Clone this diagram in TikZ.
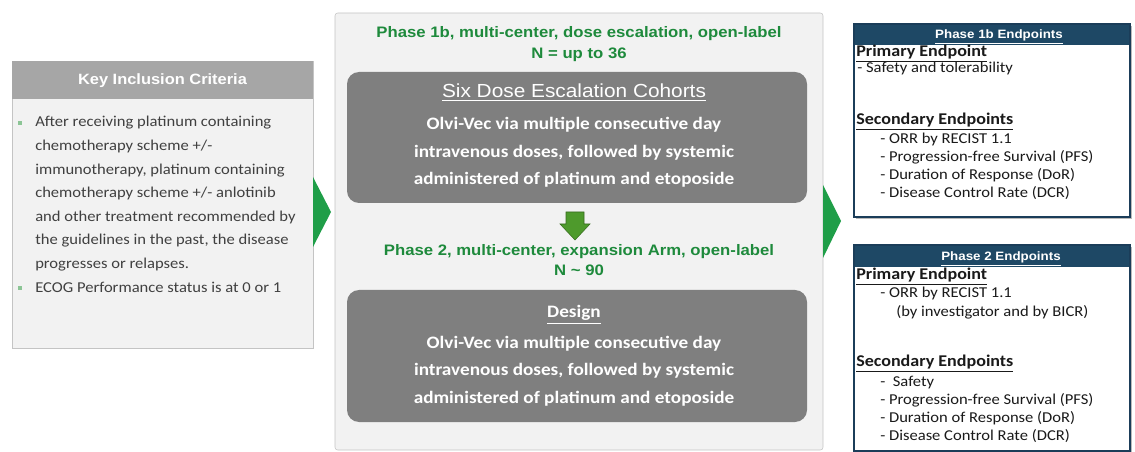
\documentclass[tikz,border=0pt]{standalone}
\usepackage{fontspec}
\setmainfont{Carlito}[FakeStretch=1.1]
\newfontfamily\headfont{Liberation Sans}[FakeStretch=1.1]
\usepackage{tikz}
\usetikzlibrary{positioning,shadows}
\definecolor{panelgray}{HTML}{F2F2F2}
\definecolor{edgegray}{HTML}{C4C4C4}
\definecolor{bandgray}{HTML}{A6A6A6}
\definecolor{cohortgray}{HTML}{7F7F7F}
\definecolor{critink}{HTML}{404040}
\definecolor{phasegreen}{HTML}{1E8A3C}
\definecolor{chevgreen}{HTML}{1F9E48}
\definecolor{downgreen}{HTML}{4E9A2C}
\definecolor{epnavy}{HTML}{1B3D59}
\definecolor{epband}{HTML}{1E4865}
\definecolor{epink}{HTML}{1A1A1A}
\definecolor{dotgreen}{HTML}{8CC596}

\begin{document}
\begin{tikzpicture}[x=0.75pt,y=-0.75pt,every node/.style={inner sep=0pt},
  crit/.style={font=\fontsize{11.3}{14}\selectfont,text=critink,anchor=base west},
  crithead/.style={font=\headfont\bfseries\fontsize{11.2}{14}\selectfont,text=white,anchor=base},
  dot/.style={fill=dotgreen,minimum size=2.6pt},
  phase/.style={font=\headfont\bfseries\fontsize{11.4}{14}\selectfont,text=phasegreen,anchor=base},
  cohorthead/.style={font=\headfont\fontsize{14.2}{16}\selectfont,text=white,anchor=base},
  cohort/.style={font=\bfseries\fontsize{13.1}{16}\selectfont,text=white,anchor=base},
  band/.style={font=\headfont\bfseries\fontsize{9.1}{11}\selectfont,text=white,anchor=base},
  ephead/.style={font=\bfseries\fontsize{12.3}{14}\selectfont,text=epink,anchor=base west},
  ep/.style={font=\fontsize{11.3}{14}\selectfont,text=epink,anchor=base west},
  chevron/.style={fill=chevgreen}]
  \useasboundingbox (0,0) rectangle (1135,452);

  % inclusion criteria
  \draw[draw=edgegray,fill=panelgray] (12,61) rectangle (313,348);
  \fill[bandgray] (12,61) rectangle (313,99);
  \node[crithead] (keyhead) at (162.5,85) {Key Inclusion Criteria};
  \node[dot] (dot1) at (20,123) {};
  \node[dot] (dot2) at (20,288) {};
  \foreach \t [count=\i] in {After receiving platinum containing,chemotherapy scheme +/-,
      {immunotherapy, platinum containing},chemotherapy scheme +/- anlotinib,
      and other treatment recommended by,{the guidelines in the past, the disease},
      progresses or relapses.}
    \node[crit] (crit\i) at (35,{127+23.6*(\i-1)}) {\t};
  \node[crit] (ecog) at (35,292) {ECOG Performance status is at 0 or 1};

  % study design panel
  \draw[draw=edgegray,fill=panelgray,rounded corners=2pt] (335,13) rectangle (823,450);
  \node[phase] (p1title) at (579,38) {Phase 1b, multi-center, dose escalation, open-label};
  \node[phase] (p1n) at (579,59) {N = up to 36};
  \fill[cohortgray,rounded corners=9pt] (347,72) rectangle (807,203);
  \node[cohorthead] (p1head) at (574,98) {\underline{Six Dose Escalation Cohorts}};
  \foreach \t [count=\i] in {Olvi-Vec via multiple consecutive day,
      {intravenous doses, followed by systemic},administered of platinum and etoposide}
    \node[cohort] (p1line\i) at (574,{130+27.5*(\i-1)}) {\t};

  \draw[downgreen!70!black,fill=downgreen,line width=0.4pt]
    (566,212) -- (584,212) -- (584,224) -- (590,224) -- (575,240)
    -- (560,224) -- (566,224) -- cycle;

  \node[phase] (p2title) at (579,256) {Phase 2, multi-center, expansion Arm, open-label};
  \node[phase] (p2n) at (579,276) {N \char`~\ 90};
  \fill[cohortgray,rounded corners=9pt] (347,290) rectangle (807,422);
  \node[cohort] (p2head) at (574,318) {\underline{Design}};
  \foreach \t [count=\i] in {Olvi-Vec via multiple consecutive day,
      {intravenous doses, followed by systemic},administered of platinum and etoposide}
    \node[cohort] (p2line\i) at (574,{348+27.5*(\i-1)}) {\t};

  % chevrons
  \fill[chevron] (313,177) -- (331,212) -- (313,247) -- cycle;
  \fill[chevron] (823,185) -- (841,221) -- (823,258) -- cycle;

  % phase 1b endpoints
  \fill[white,drop shadow={shadow xshift=1.2pt,shadow yshift=-1.5pt,opacity=.55}] (854,24) rectangle (1130,217);
  \fill[epband] (854,24) rectangle (1130,45);
  \draw[epnavy,line width=1.5pt] (854,24) rectangle (1130,217);
  \node[band] (e1band) at (999,39) {\underline{Phase 1b Endpoints}};
  \node[ephead] (e1prim) at (856,56.5) {\underline{Primary Endpoint}};
  \node[ep] (e1safe) at (857,72.5) {- Safety and tolerability};
  \node[ephead] (e1sec) at (856,124.5) {\underline{Secondary Endpoints}};
  \foreach \t [count=\i] in {- ORR by RECIST 1.1,- Progression-free Survival (PFS),
      - Duration of Response (DoR),- Disease Control Rate (DCR)}
    \node[ep] (e1item\i) at (880,{143.5+18*(\i-1)}) {\t};

  % phase 2 endpoints
  \fill[white,drop shadow={shadow xshift=1.2pt,shadow yshift=-1.5pt,opacity=.55}] (854,245) rectangle (1130,451);
  \fill[epband] (854,245) rectangle (1130,267);
  \draw[epnavy,line width=1.5pt] (854,245) rectangle (1130,451);
  \node[band] (e2band) at (1001,261) {\underline{Phase 2 Endpoints}};
  \node[ephead] (e2prim) at (856,279.5) {\underline{Primary Endpoint}};
  \node[ep] (e2orr) at (880,297.5) {- ORR by RECIST 1.1};
  \node[ep] (e2bicr) at (896,316) {(by investigator and by BICR)};
  \node[ephead] (e2sec) at (856,366.5) {\underline{Secondary Endpoints}};
  \foreach \t [count=\i] in {-~ Safety,- Progression-free Survival (PFS),
      - Duration of Response (DoR),- Disease Control Rate (DCR)}
    \node[ep] (e2item\i) at (880,{386+18.3*(\i-1)}) {\t};
\end{tikzpicture}
\end{document}
